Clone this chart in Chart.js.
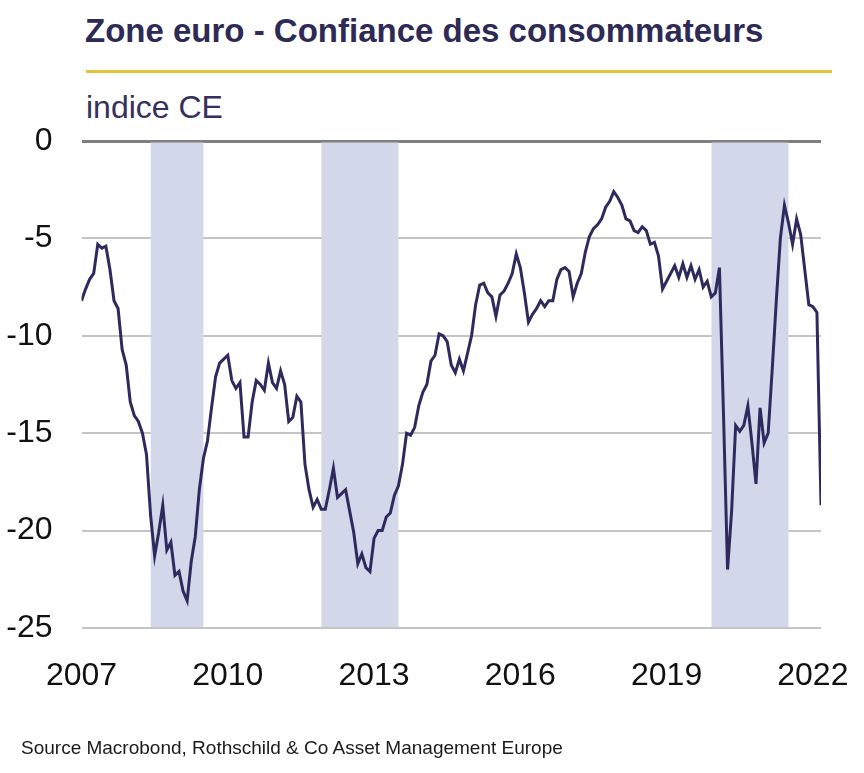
<!DOCTYPE html>
<html>
<head>
<meta charset="utf-8">
<script src="https://cdn.jsdelivr.net/npm/chart.js@4.4.1/dist/chart.umd.min.js"></script>
<style>
  body { margin: 0; width: 864px; height: 773px; background: #fff; position: relative; overflow: hidden;
         font-family: "Liberation Sans", Arial, sans-serif; }
  #title { position: absolute; left: 85px; top: 14px; font-size: 33px; line-height: 33px; font-weight: bold; color: #2d2a56; white-space: nowrap; }
  #rule { position: absolute; left: 86px; top: 70px; width: 746px; height: 3px; background: #e5c33f; }
  #unit { position: absolute; left: 86px; top: 91px; font-size: 32px; line-height: 32px; color: #35315c; white-space: nowrap; }
  #source { position: absolute; left: 21px; top: 738px; font-size: 19px; line-height: 19px; color: #1a1a1a; white-space: nowrap; }
  #chart { position: absolute; left: 0; top: 0; }
</style>
</head>
<body>
<div id="title">Zone euro - Confiance des consommateurs</div>
<div id="rule"></div>
<div id="unit">indice CE</div>
<canvas id="chart" width="864" height="773"></canvas>
<div id="source">Source Macrobond, Rothschild &amp; Co Asset Management Europe</div>
<script>
// Consumer confidence, euro area, monthly values (Jan..Dec)
const startYear = 2007;
const ce2007 = [-8.2, -7.6, -7.1, -6.8, -5.3, -5.5, -5.4, -6.6, -8.2, -8.6, -10.7, -11.5];
const ce2008 = [-13.4, -14.1, -14.4, -15.0, -16.1, -19.2, -21.3, -20.1, -18.7, -21.0, -20.6, -22.3];
const ce2009 = [-22.1, -23.1, -23.6, -21.6, -20.3, -17.9, -16.3, -15.4, -13.7, -12.1, -11.4, -11.2];
const ce2010 = [-11.0, -12.3, -12.7, -12.4, -15.2, -15.2, -13.4, -12.3, -12.5, -12.8, -11.4, -12.4];
const ce2011 = [-12.7, -11.8, -12.5, -14.4, -14.2, -13.1, -13.4, -16.6, -17.9, -18.8, -18.4, -18.9];
const ce2012 = [-18.9, -17.9, -16.8, -18.3, -18.1, -17.9, -19.0, -20.1, -21.7, -21.2, -21.9, -22.1];
const ce2013 = [-20.4, -20.0, -20.0, -19.3, -19.1, -18.2, -17.7, -16.6, -15.0, -15.1, -14.7, -13.6];
const ce2014 = [-12.9, -12.5, -11.3, -11.0, -9.9, -10.0, -10.3, -11.5, -11.9, -11.2, -11.8, -10.9];
const ce2015 = [-10.0, -8.4, -7.4, -7.3, -7.8, -8.0, -9.0, -7.9, -7.7, -7.3, -6.8, -5.8];
const ce2016 = [-6.5, -7.8, -9.3, -8.9, -8.6, -8.2, -8.5, -8.2, -8.2, -7.1, -6.6, -6.5];
const ce2017 = [-6.7, -8.0, -7.3, -6.8, -5.7, -4.9, -4.5, -4.3, -4.0, -3.4, -3.1, -2.6];
const ce2018 = [-2.9, -3.3, -4.0, -4.1, -4.6, -4.7, -4.4, -4.6, -5.3, -5.2, -5.9, -7.6];
const ce2019 = [-7.2, -6.8, -6.4, -7.0, -6.3, -7.0, -6.4, -7.1, -6.6, -7.5, -7.2, -8.0];
const ce2020 = [-7.8, -6.5, -14.0, -22.0, -19.0, -14.6, -14.9, -14.6, -13.6, -15.5, -17.6, -13.7];
const ce2021 = [-15.5, -15.0, -11.7, -8.2, -5.0, -3.3, -4.2, -5.3, -4.0, -4.8, -6.6, -8.4];
const ce2022 = [-8.5, -8.8, -18.7];

// shaded periods (decimal years)
const recessions = [[2008.42, 2009.5], [2011.92, 2013.5], [2019.92, 2021.5]];

const yearTicks = [2007, 2010, 2013, 2016, 2019, 2022];
const yTicks = [0, -5, -10, -15, -20, -25];

const ceByYear = [ce2007, ce2008, ce2009, ce2010, ce2011, ce2012, ce2013, ce2014,
                  ce2015, ce2016, ce2017, ce2018, ce2019, ce2020, ce2021, ce2022];
const points = [];
ceByYear.forEach((vals, i) => {
  vals.forEach((v, m) => points.push({ x: startYear + i + m / 12, y: v }));
});

const FONT = '"Liberation Sans", Arial, sans-serif';

const recessionBands = {
  id: 'recessionBands',
  beforeDatasetsDraw(chart) {
    const { ctx, scales: { x, y } } = chart;
    const top = y.getPixelForValue(0) + 1.5;
    const bottom = y.getPixelForValue(-25) - 1;
    ctx.save();
    ctx.fillStyle = '#d3d7ea';
    recessions.forEach(([a, b]) => {
      const x0 = x.getPixelForValue(a);
      const x1 = x.getPixelForValue(b);
      ctx.fillRect(x0, top, x1 - x0, bottom - top);
    });
    ctx.restore();
  }
};

new Chart(document.getElementById('chart').getContext('2d'), {
  type: 'line',
  data: {
    datasets: [{
      label: 'Confiance des consommateurs',
      data: points,
      borderColor: '#2e2a5e',
      borderWidth: 3,
      pointRadius: 0,
      tension: 0,
      fill: false
    }]
  },
  options: {
    responsive: false,
    animation: false,
    layout: { padding: { top: 141, right: 43, bottom: 85, left: 0 } },
    scales: {
      x: {
        type: 'linear',
        min: 2007,
        max: 2022 + 2 / 12,
        afterBuildTicks: s => { s.ticks = yearTicks.map(v => ({ value: v })); },
        afterFit: s => { s.height = 60; s.paddingLeft = 0; s.paddingRight = 0; },
        grid: { display: false },
        border: { display: false },
        ticks: {
          autoSkip: false,
          maxRotation: 0,
          padding: 21,
          color: '#111',
          font: { family: FONT, size: 32 },
          callback: v => String(v)
        }
      },
      y: {
        min: -25,
        max: 0,
        afterBuildTicks: s => { s.ticks = yTicks.map(v => ({ value: v })); },
        afterFit: s => { s.width = 81.5; },
        border: { display: false },
        grid: {
          drawTicks: false,
          color: c => (c.tick && c.tick.value === 0 ? '#7f7f7f' : '#c4c4c4'),
          lineWidth: c => (c.tick && c.tick.value === 0 ? 3 : 2)
        },
        ticks: {
          padding: 29,
          color: '#111',
          font: { family: FONT, size: 32 },
          callback: v => String(v)
        }
      }
    },
    plugins: {
      legend: { display: false },
      tooltip: { enabled: false }
    }
  },
  plugins: [recessionBands]
});
</script>
</body>
</html>
